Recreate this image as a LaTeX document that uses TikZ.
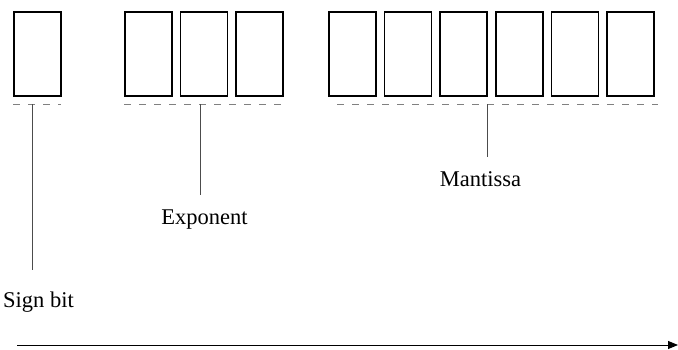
\documentclass[tikz,border=0pt]{standalone}
\usepackage{fontspec}
\setmainfont{Liberation Serif}
\usetikzlibrary{arrows.meta}
\begin{document}
\begin{tikzpicture}[x=1pt,y=-1pt,
  bitbox/.style={draw=black,line width=1.6pt,minimum width=47pt,minimum height=84pt,inner sep=0pt,anchor=north west},
  brace/.style={draw=gray,line width=1.1pt,dash pattern=on 7pt off 8pt},
  lead/.style={draw=black!70,line width=0.9pt},
  lbl/.style={font=\fontsize{22.5}{26}\selectfont,anchor=base,inner sep=0pt}]
\useasboundingbox (0,0) rectangle (678,350);
% sign bit
\node[bitbox] (s) at (13,11) {};
% exponent bits
\foreach \i/\x in {1/124,2/179.5,3/235}
  \node[bitbox] (e\i) at (\x,11) {};
% mantissa bits
\foreach \i/\x in {1/328,2/383.5,3/439,4/495,5/550.5,6/606}
  \node[bitbox] (m\i) at (\x,11) {};
% field markers
\coordinate (sl) at (13,104.5);  \coordinate (sr) at (61,104.5);
\coordinate (el) at (124,104.5); \coordinate (er) at (282,104.5);
\coordinate (ml) at (337,104.5); \coordinate (mr) at (658,104.5);
\draw[brace] (sl) -- (sr);
\draw[brace] (el) -- (er);
\draw[brace] (ml) -- (mr);
% labels
\node[lbl] (ls) at (38.5,307) {Sign bit};
\node[lbl] (le) at (204.5,225) {Exponent};
\node[lbl] (lm) at (480.5,187) {Mantissa};
\coordinate (st) at (32,104.5);  \coordinate (sb) at (32,270);
\coordinate (et) at (200,104.5); \coordinate (eb) at (200,195);
\coordinate (mt) at (487,104.5); \coordinate (mb) at (487,157);
\draw[lead] (st) -- (sb);
\draw[lead] (et) -- (eb);
\draw[lead] (mt) -- (mb);
% bit order axis
\coordinate (a0) at (17,345); \coordinate (a1) at (678,345);
\draw[line width=1pt,-{Triangle[length=10pt,width=8pt]}] (a0) -- (a1);
\end{tikzpicture}
\end{document}
